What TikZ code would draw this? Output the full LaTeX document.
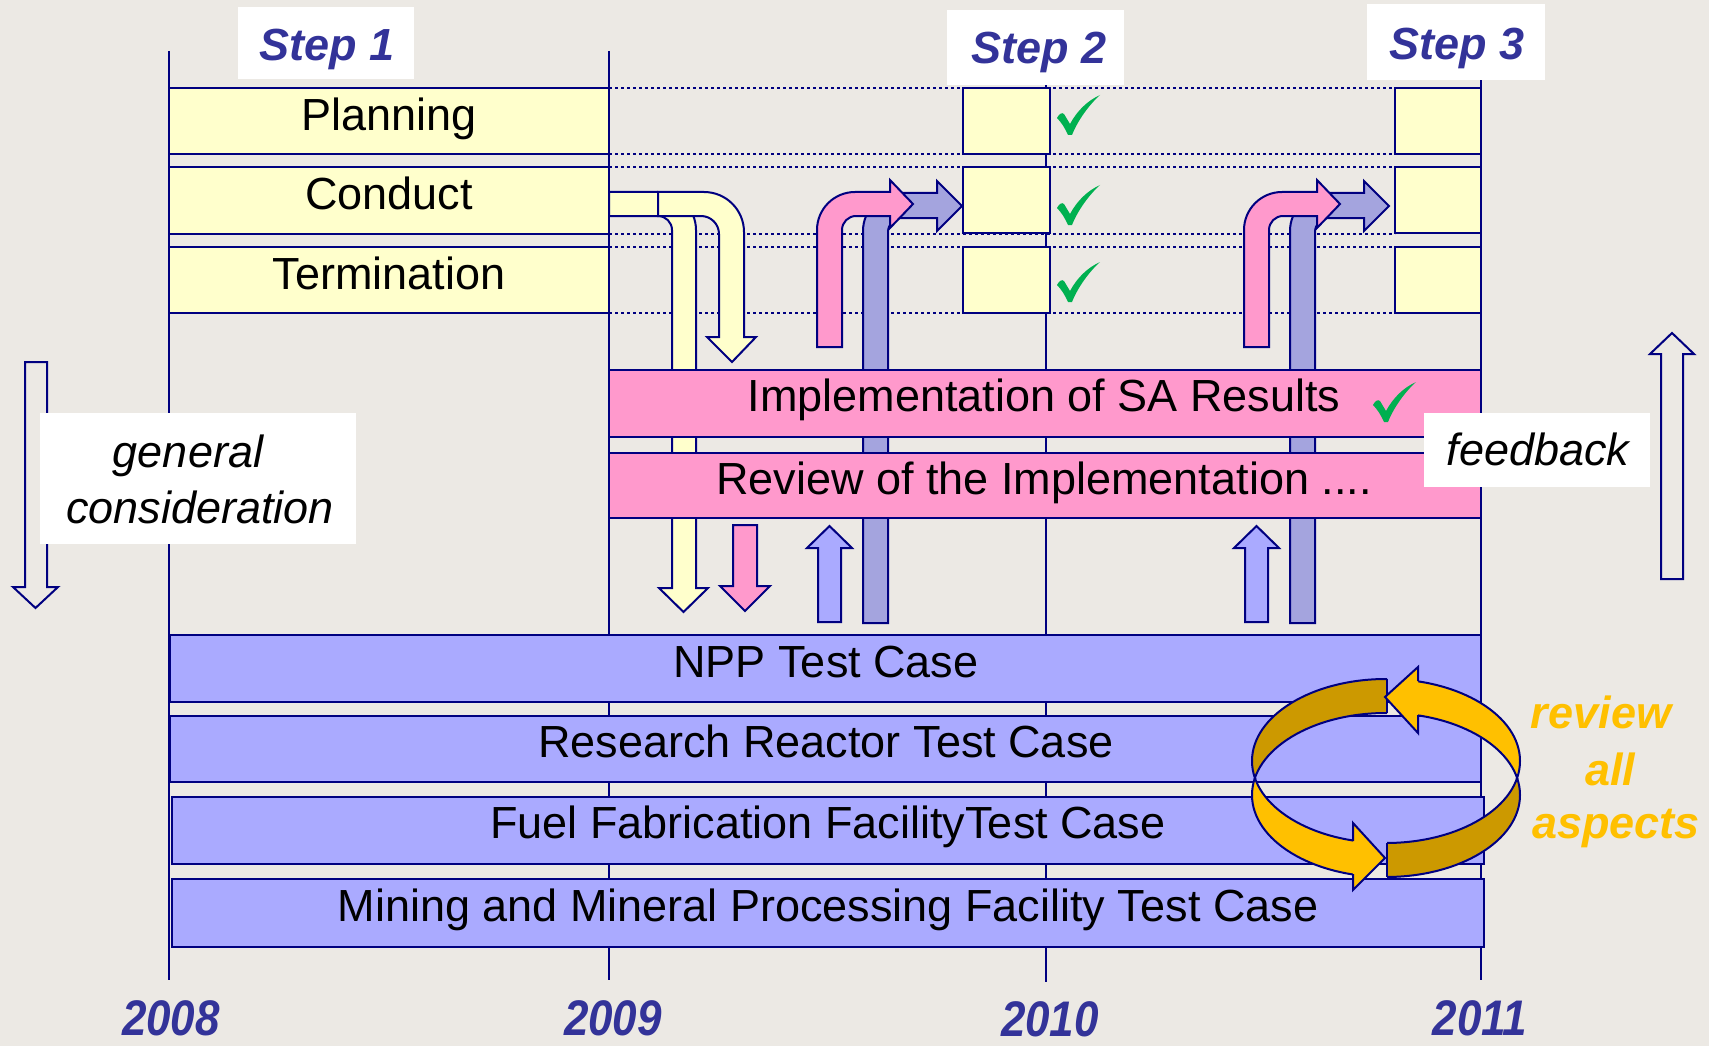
\documentclass[tikz,border=0pt]{standalone}
\usepackage{fontspec}
\usepackage{graphicx}
\setmainfont{Liberation Sans}
\usetikzlibrary{fit}
\definecolor{bg}{RGB}{236,233,228}
\definecolor{navyl}{RGB}{0,0,128}
\definecolor{ylw}{RGB}{255,255,204}
\definecolor{pnk}{RGB}{255,153,204}
\definecolor{lav}{RGB}{170,170,255}
\definecolor{lavd}{RGB}{164,164,222}
\definecolor{stepblue}{RGB}{51,51,153}
\definecolor{chkgreen}{RGB}{0,176,80}
\definecolor{ringbright}{RGB}{255,192,0}
\definecolor{ringdark}{RGB}{204,153,0}
\newcommand\lblfont{\fontsize{45}{54}\selectfont}
\begin{document}
\begin{tikzpicture}[x=1pt,y=-1pt,
  boxframe/.style={draw=navyl, line width=2.2pt, inner sep=0pt},
  ybox/.style={boxframe, fill=ylw},
  pbox/.style={boxframe, fill=pnk},
  bbox/.style={boxframe, fill=lav},
  wbox/.style={fill=white, inner sep=0pt},
  lbl/.style={font=\lblfont, anchor=base, inner sep=0pt},
  steplbl/.style={font=\lblfont\bfseries\itshape, text=stepblue, anchor=base, inner sep=0pt},
  ilbl/.style={font=\lblfont\itshape, anchor=base, inner sep=0pt},
  olbl/.style={font=\lblfont\bfseries\itshape, text=ringbright, anchor=base, inner sep=0pt},
  yrlbl/.style={font=\fontsize{50}{60}\selectfont\bfseries\itshape, text=stepblue, anchor=base, inner sep=0pt},
  tline/.style={draw=navyl, line width=2pt},
  dotline/.style={draw=navyl, line width=2.8pt, dash pattern=on 3pt off 3pt},
  arr/.style={draw=navyl, line width=2pt, line join=miter},
  ringline/.style={draw=navyl, line width=2pt},
  chk/.pic={\fill[chkgreen] (0,23) .. controls (2,19) and (5,17) .. (7,19) -- (13,29) .. controls (20,16) and (30,6) .. (43,0) .. controls (32,10) and (21,25) .. (15,40) -- (11,40) .. controls (8,33) and (4,27) .. (0,23) -- cycle;}
]
% background and bounding box
\fill[bg] (0,0) rectangle (1709,1046);
\useasboundingbox (0,0) rectangle (1709,1046);

% timeline verticals
\draw[tline] (169,51) -- (169,980);
\draw[tline] (609,51) -- (609,980);
\draw[tline] (1046,51) -- (1046,982);
\draw[tline] (1481,51) -- (1481,980);

% dotted guide lines
\foreach \yy in {88,154,167,234,247,313}
  \draw[dotline] (609,\yy) -- (1395,\yy);

% phase boxes
\node[ybox, fit={(169,88) (609,154)}] (plan) {};
\node[ybox, fit={(169,167) (609,234)}] (cond) {};
\node[ybox, fit={(169,247) (609,313)}] (term) {};
\node[ybox, fit={(963,88) (1050,154)}] (s2a) {};
\node[ybox, fit={(963,167) (1050,233)}] (s2b) {};
\node[ybox, fit={(963,247) (1050,313)}] (s2c) {};
\node[ybox, fit={(1395,88) (1481,154)}] (s3a) {};
\node[ybox, fit={(1395,167) (1481,233)}] (s3b) {};
\node[ybox, fit={(1395,247) (1481,313)}] (s3c) {};

% yellow bent arrows
\draw[arr, fill=ylw] (609,192) -- (658,192) arc[start angle=-90,end angle=0,radius=38] -- (696,588) -- (708,588) -- (683.5,612) -- (659,588) -- (672,588) -- (672,230) arc[start angle=0,end angle=-90,radius=14] -- (609,216) -- cycle;
\draw[arr, fill=ylw] (658,192) -- (704,192) arc[start angle=-90,end angle=0,radius=40] -- (744,337) -- (756,337) -- (732,362) -- (707,337) -- (719,337) -- (719,234) arc[start angle=0,end angle=-90,radius=18] -- (658,216) -- cycle;

% blue and pink bent arrows (step 2 and step 3)
\foreach \dx in {0,427}{
\begin{scope}[xshift=\dx pt]
\draw[arr, fill=lavd] (863,623) -- (863,231) arc[start angle=180,end angle=270,radius=38] -- (937,193) -- (937,181) -- (962,206) -- (937,231) -- (937,218) -- (902,218) arc[start angle=270,end angle=180,radius=14] -- (888,623) -- cycle;
\draw[arr, fill=pnk] (817,347) -- (817,230) arc[start angle=180,end angle=270,radius=38] -- (890,192) -- (890,180) -- (913,204) -- (890,228) -- (890,216) -- (856,216) arc[start angle=270,end angle=180,radius=14] -- (842,347) -- cycle;
\draw[arr, fill=lav] (818,622) -- (818,548) -- (807,548) -- (829.5,526) -- (852,548) -- (841,548) -- (841,622) -- cycle;
\end{scope}}

% pink down arrow
\draw[arr, fill=pnk] (733,525) -- (757,525) -- (757,586) -- (770,586) -- (745,611) -- (720,586) -- (733,586) -- cycle;

% pink bars
\node[pbox, fit={(609,370) (1481,437)}] (impl) {};
\node[pbox, fit={(609,453) (1481,518)}] (rev) {};

% test case bars
\node[bbox, fit={(170,635) (1481,702)}] (npp) {};
\node[bbox, fit={(170,716) (1481,782)}] (rr) {};
\node[bbox, fit={(172,797) (1484,864)}] (fuel) {};
\node[bbox, fit={(172,879) (1484,947)}] (mine) {};

% review cycle ring
\begin{scope}
\clip (1200,600) rectangle (1387,778);
\fill[ringdark, even odd rule] (1386,761) ellipse [x radius=134, y radius=82] (1386,795) ellipse [x radius=134, y radius=82];
\draw[ringline] (1386,761) ellipse [x radius=134, y radius=82] (1386,795) ellipse [x radius=134, y radius=82];
\end{scope}
\begin{scope}
\clip (1418,600) rectangle (1600,778);
\fill[ringbright, even odd rule] (1386,761) ellipse [x radius=134, y radius=82] (1386,795) ellipse [x radius=134, y radius=82];
\draw[ringline] (1386,761) ellipse [x radius=134, y radius=82] (1386,795) ellipse [x radius=134, y radius=82];
\end{scope}
\begin{scope}
\clip (1200,778) rectangle (1353,950);
\fill[ringbright, even odd rule] (1386,761) ellipse [x radius=134, y radius=82] (1386,795) ellipse [x radius=134, y radius=82];
\draw[ringline] (1386,761) ellipse [x radius=134, y radius=82] (1386,795) ellipse [x radius=134, y radius=82];
\end{scope}
\begin{scope}
\clip (1387,778) rectangle (1600,950);
\fill[ringdark, even odd rule] (1386,761) ellipse [x radius=134, y radius=82] (1386,795) ellipse [x radius=134, y radius=82];
\draw[ringline] (1386,761) ellipse [x radius=134, y radius=82] (1386,795) ellipse [x radius=134, y radius=82];
\end{scope}
\draw[ringline] (1387,679) -- (1387,713);
\draw[ringline] (1387,843) -- (1387,877);
\fill[ringbright] (1418,667) -- (1385,697) -- (1418,733) -- cycle;
\draw[ringline, line join=miter] (1418,681) -- (1418,667) -- (1385,697) -- (1418,733) -- (1418,715);
\fill[ringbright] (1353,823) -- (1385,858) -- (1353,890) -- cycle;
\draw[ringline, line join=miter] (1353,841) -- (1353,823) -- (1385,858) -- (1353,890) -- (1353,874);

% hollow side arrows
\draw[arr] (25,362) -- (47,362) -- (47,587) -- (58,587) -- (35.5,608) -- (13,587) -- (25,587) -- cycle;
\draw[arr] (1661,579) -- (1661,354) -- (1650,354) -- (1672,333) -- (1694,354) -- (1683,354) -- (1683,579) -- cycle;

% white label boxes
\node[wbox, fit={(238,7) (414,79)}] (st1box) {};
\node[wbox, fit={(947,10) (1124,85)}] (st2box) {};
\node[wbox, fit={(1367,4) (1545,80)}] (st3box) {};
\node[wbox, fit={(40,413) (356,544)}] (genbox) {};
\node[wbox, fit={(1424,413) (1650,487)}] (fbbox) {};

% texts
\node[steplbl] (st1) at (327,61) {Step 1};
\node[steplbl] (st2) at (1039,64) {Step 2};
\node[steplbl] (st3) at (1457,60) {Step 3};
\node[lbl] (plant) at (389,131) {Planning};
\node[lbl] (condt) at (389,209) {Conduct};
\node[lbl] (termt) at (389,289) {Termination};
\node[lbl] (implt) at (1044,411) {Implementation of SA Results};
\node[lbl] (revt) at (1044,494) {Review of the Implementation ....};
\node[lbl] (nppt) at (826,677) {NPP Test Case};
\node[lbl] (rrt) at (826,757) {Research Reactor Test Case};
\node[lbl] (fuelt) at (828,838) {Fuel Fabrication FacilityTest Case};
\node[lbl] (minet) at (828,921) {Mining and Mineral Processing Facility Test Case};
\node[ilbl] (gen1) at (188,467) {general};
\node[ilbl] (gen2) at (200,523) {consideration};
\node[ilbl] (fbt) at (1538,465) {feedback};
\node[olbl] (rv1) at (1601,728) {review};
\node[olbl] (rv2) at (1610,785) {all};
\node[olbl] (rv3) at (1616,838) {aspects};
\node[yrlbl] (y08) at (171,1035) {\scalebox{0.88}[1]{2008}};
\node[yrlbl] (y09) at (613,1035) {\scalebox{0.88}[1]{2009}};
\node[yrlbl] (y10) at (1050,1036) {\scalebox{0.88}[1]{2010}};
\node[yrlbl] (y11) at (1480,1035) {\scalebox{0.88}[1]{2011}};

% check marks
\pic at (1057,95) {chk};
\pic at (1057,185) {chk};
\pic at (1057,262) {chk};
\pic at (1373,382) {chk};
\end{tikzpicture}
\end{document}
